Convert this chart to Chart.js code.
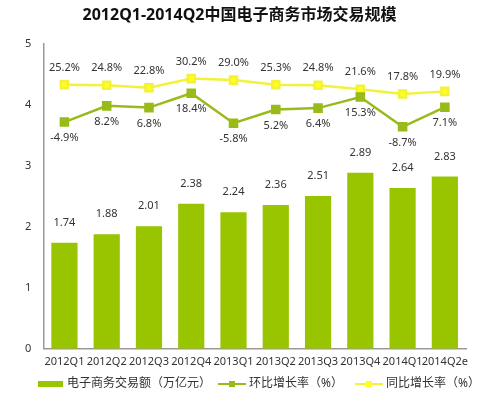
<!DOCTYPE html>
<html lang="zh">
<head>
  <meta charset="UTF-8">
  <title>2012Q1-2014Q2中国电子商务市场交易规模</title>
  <script src="https://cdn.jsdelivr.net/npm/chart.js@4/dist/chart.umd.min.js"></script>
  <style>
    html, body {
      margin: 0;
      padding: 0;
      background: #fff;
    }
    .wrap {
      width: 497px;
      height: 398px;
    }
  </style>
</head>
<body>
  <div class="wrap"><canvas id="chart" width="497" height="398"></canvas></div>
  <script>
    const quarters = ['2012Q1', '2012Q2', '2012Q3', '2012Q4', '2013Q1', '2013Q2', '2013Q3', '2013Q4', '2014Q1', '2014Q2e'];
    const volume = [1.74, 1.88, 2.01, 2.38, 2.24, 2.36, 2.51, 2.89, 2.64, 2.83];
    const qoqRate = [-4.9, 8.2, 6.8, 18.4, -5.8, 5.2, 6.4, 15.3, -8.7, 7.1];
    const yoyRate = [25.2, 24.8, 22.8, 30.2, 29.0, 25.3, 24.8, 21.6, 17.8, 19.9];
    const yTicks = [0, 1, 2, 3, 4, 5];

    const barColor = '#99c400';
    const qoqColor = '#99bb1a';
    const yoyColor = '#f2f23a';
    const yoyMarker = '#ffff1a';
    const textColor = '#333';
    const font = '"Noto Sans", "Noto Sans CJK SC", sans-serif';

    // value labels drawn above bars / around the line points
    const valueLabels = {
      id: 'valueLabels',
      afterDatasetsDraw(chart) {
        const ctx = chart.ctx;
        ctx.save();
        ctx.font = '11px ' + font;
        ctx.fillStyle = textColor;
        ctx.textAlign = 'center';
        ctx.textBaseline = 'middle';
        chart.data.datasets.forEach((ds, i) => {
          const meta = chart.getDatasetMeta(i);
          meta.data.forEach((el, j) => {
            const v = ds.data[j];
            if (ds.type === 'bar') {
              ctx.fillText(v.toFixed(2), el.x, el.y - 20);
            } else if (ds.labelPos === 'below') {
              ctx.fillText(v.toFixed(1) + '%', el.x, el.y + 16);
            } else {
              ctx.fillText(v.toFixed(1) + '%', el.x, el.y - 17);
            }
          });
        });
        ctx.restore();
      }
    };

    // legend at the bottom: wide bar swatch, line swatches with a square marker
    const bottomLegend = {
      id: 'bottomLegend',
      afterDraw(chart) {
        const ctx = chart.ctx;
        const y = 384;
        ctx.save();
        ctx.font = '12px ' + font;
        ctx.fillStyle = textColor;
        ctx.textBaseline = 'middle';
        ctx.textAlign = 'left';

        ctx.fillStyle = barColor;
        ctx.fillRect(38, y - 3, 25, 6);
        ctx.fillStyle = textColor;
        ctx.fillText(chart.data.datasets[0].label, 67, y);

        const lineItem = (x, color, marker, text) => {
          ctx.strokeStyle = color;
          ctx.lineWidth = 2;
          ctx.beginPath();
          ctx.moveTo(x, y);
          ctx.lineTo(x + 28, y);
          ctx.stroke();
          ctx.fillStyle = marker;
          ctx.fillRect(x + 11, y - 3, 6, 6);
          ctx.fillStyle = textColor;
          ctx.fillText(text, x + 31, y);
        };
        lineItem(218, qoqColor, qoqColor, chart.data.datasets[1].label);
        lineItem(355, yoyColor, yoyMarker, chart.data.datasets[2].label);
        ctx.restore();
      }
    };

    new Chart(document.getElementById('chart'), {
      data: {
        labels: quarters,
        datasets: [
          {
            type: 'bar',
            label: '电子商务交易额（万亿元）',
            data: volume,
            backgroundColor: barColor,
            categoryPercentage: 1,
            barPercentage: 0.62,
            yAxisID: 'y',
            order: 3
          },
          {
            type: 'line',
            label: '环比增长率（%）',
            data: qoqRate,
            borderColor: qoqColor,
            backgroundColor: qoqColor,
            borderWidth: 2.5,
            pointStyle: 'rect',
            pointRadius: 5,
            pointHoverRadius: 5,
            tension: 0,
            yAxisID: 'y1',
            labelPos: 'below',
            order: 1
          },
          {
            type: 'line',
            label: '同比增长率（%）',
            data: yoyRate,
            borderColor: yoyColor,
            backgroundColor: yoyMarker,
            borderWidth: 2.5,
            pointStyle: 'rect',
            pointRadius: 5,
            pointHoverRadius: 5,
            tension: 0,
            yAxisID: 'y1',
            labelPos: 'above',
            order: 2
          }
        ]
      },
      options: {
        responsive: false,
        animation: false,
        layout: {
          padding: { left: 13, right: 31, top: 0, bottom: 24 }
        },
        plugins: {
          legend: { display: false },
          tooltip: { enabled: false },
          title: {
            display: true,
            text: '2012Q1-2014Q2中国电子商务市场交易规模',
            color: '#111',
            font: { family: font, size: 16, weight: 'bold' },
            padding: { top: 6, bottom: 19 }
          }
        },
        scales: {
          x: {
            grid: { display: false, drawTicks: false },
            border: { color: '#999', width: 1.5 },
            ticks: {
              color: textColor,
              font: { family: font, size: 11 },
              autoSkip: false,
              maxRotation: 0,
              padding: 6
            }
          },
          y: {
            min: 0,
            max: 5,
            afterBuildTicks(axis) {
              axis.ticks = yTicks.map(v => ({ value: v }));
            },
            grid: { display: false, drawTicks: false },
            border: { color: '#999', width: 1.5 },
            ticks: {
              color: textColor,
              font: { family: font, size: 11 },
              padding: 12
            }
          },
          y1: {
            display: false,
            min: -188,
            max: 58
          }
        }
      },
      plugins: [valueLabels, bottomLegend]
    });
  </script>
</body>
</html>
